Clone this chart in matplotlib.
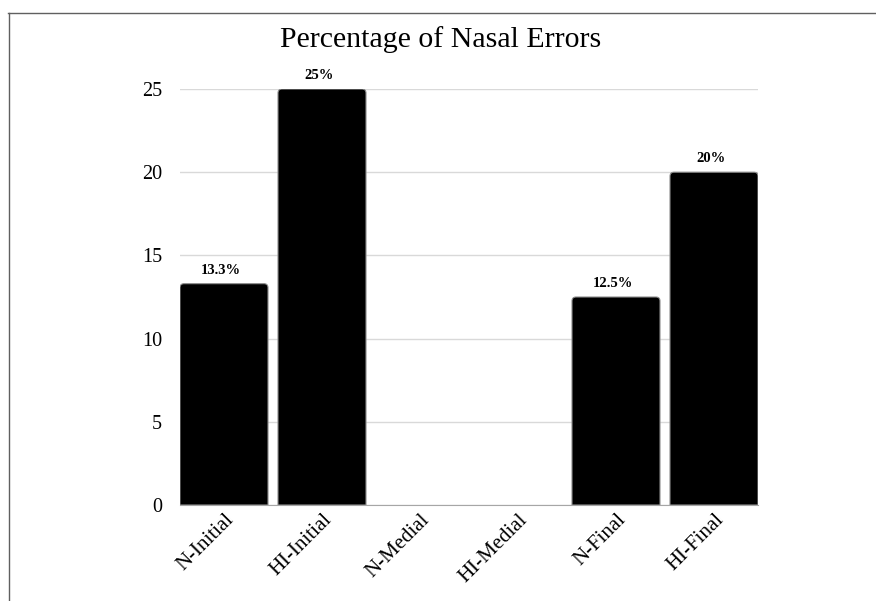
import matplotlib
matplotlib.use("Agg")
import matplotlib.pyplot as plt
from matplotlib.lines import Line2D
from matplotlib.path import Path
from matplotlib.patches import PathPatch

categories = ["N-Initial", "HI-Initial", "N-Medial", "HI-Medial", "N-Final", "HI-Final"]
values = [13.3, 25, 0, 0, 12.5, 20]
value_labels = ["13.3%", "25%", "", "", "12.5%", "20%"]
y_ticks = [0, 5, 10, 15, 20, 25]

plt.rcParams["font.family"] = ["Liberation Serif", "DejaVu Serif"]

W, H = 876, 601
fig = plt.figure(figsize=(W / 100, H / 100), dpi=100)
ax = fig.add_axes([180 / W, 1 - 505 / H, (758 - 180) / W, (505 - 89) / H])

bar_w = 0.898
x = list(range(len(categories)))
bars = ax.bar(x, values, width=bar_w, color="black", edgecolor="#8c8c8c", linewidth=0.8, zorder=3)

ax.set_xlim(-bar_w / 2, len(categories) - 1 + bar_w / 2)
ax.set_ylim(0, 25)

# replace the square bar tops with slightly rounded ones
fig.canvas.draw()
inv = ax.transData.inverted()
p0 = inv.transform((0, 0))
p1 = inv.transform((4, 4))
rx, ry = p1[0] - p0[0], p1[1] - p0[1]
for b in bars:
    h = b.get_height()
    if h <= 0:
        b.set_visible(False)
        continue
    x0, w = b.get_x(), b.get_width()
    x1 = x0 + w
    verts = [(x0, 0), (x0, h - ry), (x0, h), (x0 + rx, h),
             (x1 - rx, h), (x1, h), (x1, h - ry), (x1, 0), (x0, 0)]
    codes = [Path.MOVETO, Path.LINETO, Path.CURVE3, Path.CURVE3,
             Path.LINETO, Path.CURVE3, Path.CURVE3, Path.LINETO, Path.CLOSEPOLY]
    ax.add_patch(PathPatch(Path(verts, codes), facecolor="black", edgecolor="#8c8c8c",
                           linewidth=0.8, zorder=3))
    b.set_visible(False)

for xi, v, lab in zip(x, values, value_labels):
    if lab:
        ax.annotate(lab, (xi, v), xytext=(-2, 5), textcoords="offset points",
                    ha="center", va="bottom", fontsize=10.5, fontweight="bold")

ax.set_yticks(y_ticks)
ax.set_yticklabels([str(t) for t in y_ticks], fontsize=14.5)
ax.set_xticks(x)
ax.set_xticklabels(categories, rotation=45, ha="right", rotation_mode="anchor", fontsize=15)
ax.tick_params(length=0)
ax.tick_params(axis="y", pad=13)
ax.tick_params(axis="x", pad=4)
ax.grid(axis="y", color="#d9d9d9", linewidth=1, zorder=0)
for side in ["top", "right", "left"]:
    ax.spines[side].set_visible(False)
ax.spines["bottom"].set_color("#a6a6a6")
ax.spines["bottom"].set_zorder(4)

fig.text(441 / W, 1 - 40 / H, "Percentage of Nasal Errors", ha="center", va="center", fontsize=21.5)

# outer frame (left and top edges)
fig.add_artist(Line2D([8.5 / W, 8.5 / W], [0, 1 - 12.5 / H], transform=fig.transFigure,
                      color="#606060", linewidth=1))
fig.add_artist(Line2D([8 / W, 1], [1 - 12.5 / H, 1 - 12.5 / H], transform=fig.transFigure,
                      color="#606060", linewidth=1))

fig.savefig("out.png", dpi=100)
